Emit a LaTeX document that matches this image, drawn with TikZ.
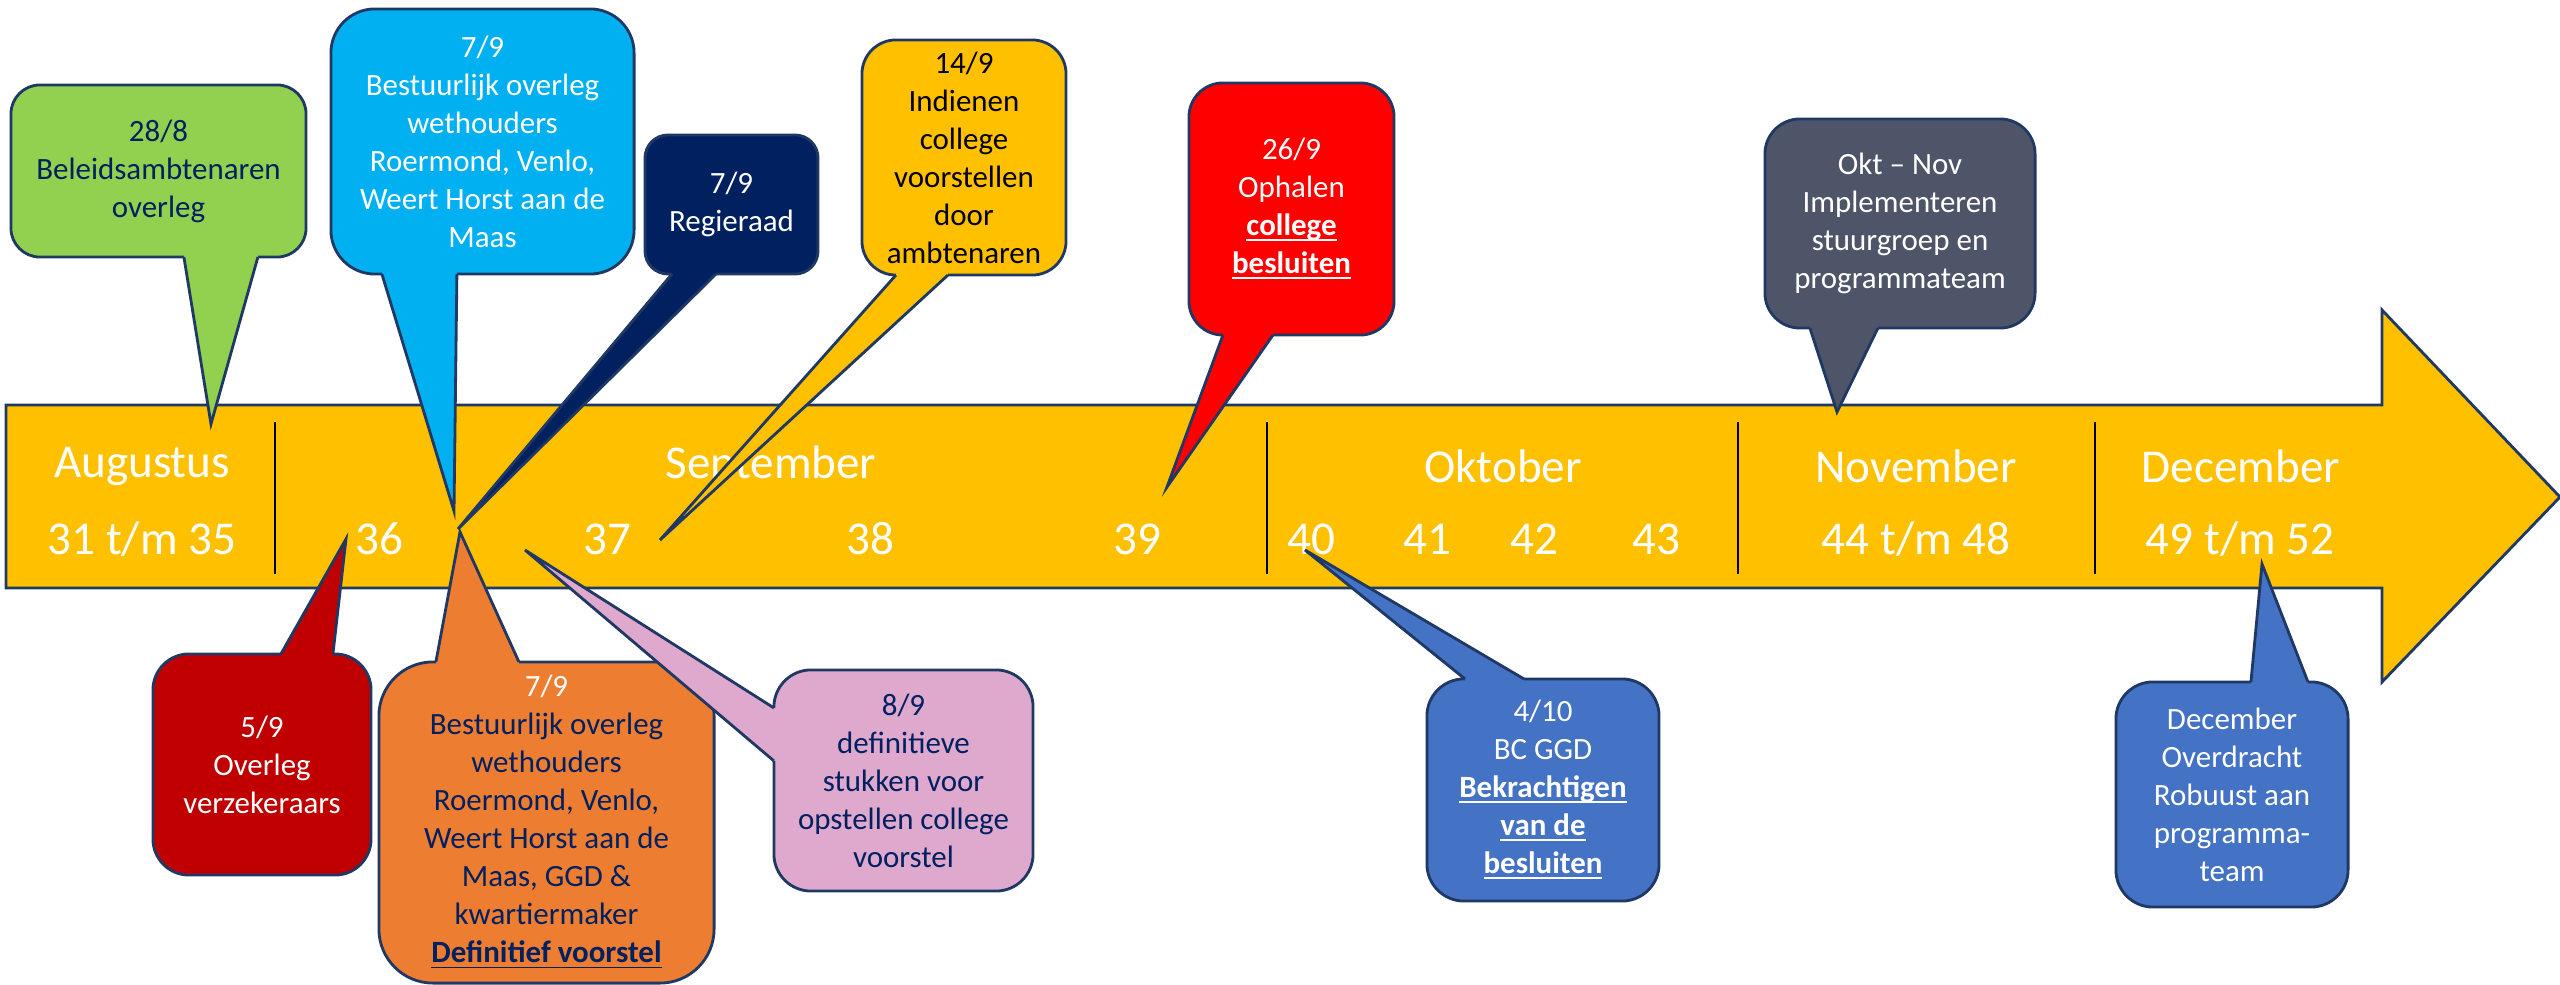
\documentclass[tikz,border=0pt]{standalone}
\usepackage{fontspec}
\setmainfont{Carlito}
\usepackage{tikz}
\usetikzlibrary{calc,positioning}

\definecolor{goud}{HTML}{FFC000}
\definecolor{rand}{HTML}{1F3864}
\definecolor{navy}{HTML}{002060}
\definecolor{groen}{HTML}{92D050}
\definecolor{cyaan}{HTML}{00B0F0}
\definecolor{rood}{HTML}{FF0000}
\definecolor{donkerrood}{HTML}{C00000}
\definecolor{grijs}{HTML}{4F5568}
\definecolor{oranje}{HTML}{ED7D31}
\definecolor{roze}{HTML}{DFA8CD}
\definecolor{blauw}{HTML}{4472C4}

\tikzstyle{rim}=[draw=rand,line width=0.8pt]
\tikzstyle{bubble}=[rim,inner sep=0pt,outer sep=0pt,align=center,
                    font=\fontsize{8.8}{10.8}\selectfont]
\tikzstyle{maand}=[text=white,font=\fontsize{13.4}{15}\selectfont]
\tikzstyle{scheid}=[line width=0.8pt]

% tail of a callout: colour, base a, base b, tip, shift into the box
\newcommand{\staart}[5]{%
  \fill[#1] ($(#2)+(#5)$) -- (#2) -- (#4) -- (#3) -- ($(#3)+(#5)$) -- cycle;
  \draw[rim] (#2) -- (#4) -- (#3);}
\newcommand{\onder}[1]{\underline{\smash{\textbf{#1}}}}

\begin{document}
\begin{tikzpicture}[x=0.01cm,y=-0.01cm]
\useasboundingbox (0,0) rectangle (2560,985);
% tijdlijn
\draw[rim,fill=goud] (6,405) -- (2382,405) -- (2382,310) -- (2560,497)
  -- (2382,682) -- (2382,588) -- (6,588) -- cycle;
\foreach \x in {275,1267,1738,2095}
\draw[scheid] (\x,422) -- (\x,574);
\foreach \m/\x in {Augustus/142,September/771,Oktober/1503,November/1916,December/2241}
\node[maand] (\m) at (\x,466) {\m};
\foreach \w/\x in {36/379,37/607,38/870,39/1137,40/1311,41/1427,42/1534,43/1656}
\node[maand] (w\w) at (\x,539) {\w};
\node[maand] (w31) at (142,539) {31 t/m 35};
\node[maand] (w44) at (1916,539) {44 t/m 48};
\node[maand] (w49) at (2240,539) {49 t/m 52};

% punten op de tijdlijn
\coordinate (overleg-tip) at (211,424);
\coordinate (bestuur-tip) at (454,511);
\coordinate (regie-tip) at (458,529);
\coordinate (indienen-tip) at (660,540);
\coordinate (ophalen-tip) at (1167,487);
\coordinate (implement-tip) at (1837,412);
\coordinate (verzek-tip) at (346,539);
\coordinate (definitief-tip) at (460,532);
\coordinate (stukken-tip) at (525,550);
\coordinate (bekracht-tip) at (1305,550);
\coordinate (overdracht-tip) at (2262,564);

% boven
\node[bubble,fill=groen,text=navy,minimum width=2.95cm,minimum height=1.72cm,
  rounded corners=0.29cm] (overleg) at (158.5,171) {28/8\\Beleidsambtenaren\\overleg};
\coordinate (overleg-a) at ($(overleg.south west)+(173,0)$);
\coordinate (overleg-b) at ($(overleg.south west)+(247,0)$);
\staart{groen}{overleg-a}{overleg-b}{overleg-tip}{0,-6}

\node[bubble,fill=cyaan,text=white,minimum width=3.03cm,minimum height=2.65cm,
  rounded corners=0.44cm] (bestuur) at (482.5,141.5)
  {7/9\\Bestuurlijk overleg\\wethouders\\Roermond, Venlo,\\Weert Horst aan de\\Maas};
\coordinate (bestuur-a) at ($(bestuur.south west)+(51,0)$);
\coordinate (bestuur-b) at ($(bestuur.south west)+(126,0)$);
\staart{cyaan}{bestuur-a}{bestuur-b}{bestuur-tip}{0,-6}

\node[bubble,fill=navy,text=white,minimum width=1.73cm,minimum height=1.39cm,
  rounded corners=0.23cm] (regie) at (731.5,204.5) {7/9\\Regieraad};
\coordinate (regie-a) at ($(regie.south west)+(27,0)$);
\coordinate (regie-b) at ($(regie.south west)+(71,0)$);
\staart{navy}{regie-a}{regie-b}{regie-tip}{0,-6}

\node[bubble,fill=goud,text=black,minimum width=2.04cm,minimum height=2.35cm,
  rounded corners=0.34cm] (indienen) at (964,157.5)
  {14/9\\Indienen\\college\\voorstellen\\door\\ambtenaren};
\coordinate (indienen-a) at ($(indienen.south west)+(34,0)$);
\coordinate (indienen-b) at ($(indienen.south west)+(86,0)$);
\staart{goud}{indienen-a}{indienen-b}{indienen-tip}{0,-6}

\node[bubble,fill=rood,text=white,minimum width=2.05cm,minimum height=2.52cm,
  rounded corners=0.34cm] (ophalen) at (1291.5,209)
  {26/9\\Ophalen\\\onder{college}\\\onder{besluiten}};
\coordinate (ophalen-a) at ($(ophalen.south west)+(34,0)$);
\coordinate (ophalen-b) at ($(ophalen.south west)+(84,0)$);
\staart{rood}{ophalen-a}{ophalen-b}{ophalen-tip}{0,-6}

\node[bubble,fill=grijs,text=white,minimum width=2.70cm,minimum height=2.09cm,
  rounded corners=0.35cm] (implement) at (1900,223.5)
  {Okt – Nov\\Implementeren\\stuurgroep en\\programmateam};
\coordinate (implement-a) at ($(implement.south west)+(45,0)$);
\coordinate (implement-b) at ($(implement.south west)+(113,0)$);
\staart{grijs}{implement-a}{implement-b}{implement-tip}{0,-6}

% onder
\node[bubble,fill=donkerrood,text=white,minimum width=2.18cm,minimum height=2.21cm,
  rounded corners=0.36cm] (verzek) at (262,764.5) {5/9\\Overleg\\verzekeraars};
\coordinate (verzek-a) at ($(verzek.north west)+(128,0)$);
\coordinate (verzek-b) at ($(verzek.north west)+(180,0)$);
\staart{donkerrood}{verzek-a}{verzek-b}{verzek-tip}{0,6}

\node[bubble,fill=oranje,text=navy,minimum width=3.35cm,minimum height=3.21cm,
  rounded corners=0.54cm] (definitief) at (546.5,822.5)
  {\textcolor{white}{7/9}\\Bestuurlijk overleg\\wethouders\\Roermond, Venlo,\\Weert Horst aan de\\Maas, GGD \&\\kwartiermaker\\\onder{Definitief voorstel}};
\coordinate (definitief-a) at ($(definitief.north west)+(57,0)$);
\coordinate (definitief-b) at ($(definitief.north west)+(140,0)$);
\staart{oranje}{definitief-a}{definitief-b}{definitief-tip}{0,6}

\node[bubble,fill=roze,text=navy,minimum width=2.59cm,minimum height=2.21cm,
  rounded corners=0.37cm] (stukken) at (903.5,780.5)
  {8/9\\definitieve\\stukken voor\\opstellen college\\voorstel};
\coordinate (stukken-a) at ($(stukken.north west)+(0,38)$);
\coordinate (stukken-b) at ($(stukken.north west)+(0,91)$);
\staart{roze}{stukken-a}{stukken-b}{stukken-tip}{6,0}

\node[bubble,fill=blauw,text=white,minimum width=2.32cm,minimum height=2.22cm,
  rounded corners=0.37cm] (bekracht) at (1543,790)
  {4/10\\BC GGD\\\onder{Bekrachtigen}\\\onder{van de}\\\onder{besluiten}};
\coordinate (bekracht-a) at ($(bekracht.north west)+(38,0)$);
\coordinate (bekracht-b) at ($(bekracht.north west)+(97,0)$);
\staart{blauw}{bekracht-a}{bekracht-b}{bekracht-tip}{0,6}

\node[bubble,fill=blauw,text=white,minimum width=2.32cm,minimum height=2.25cm,
  rounded corners=0.37cm] (overdracht) at (2232,794.5)
  {December\\Overdracht\\Robuust aan\\programma-\\team};
\coordinate (overdracht-a) at ($(overdracht.north west)+(135,0)$);
\coordinate (overdracht-b) at ($(overdracht.north west)+(192,0)$);
\staart{blauw}{overdracht-a}{overdracht-b}{overdracht-tip}{0,6}
\end{tikzpicture}
\end{document}
